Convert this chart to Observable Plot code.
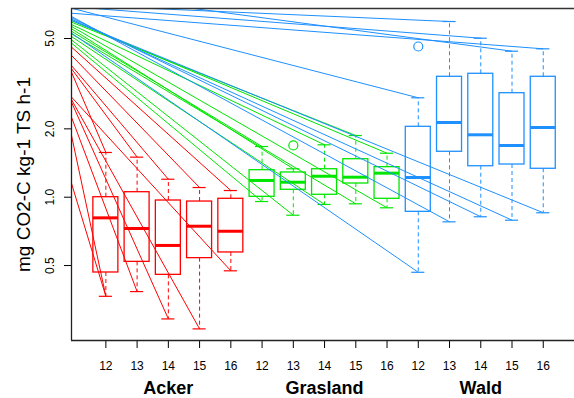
<!DOCTYPE html>
<html>
<head>
<meta charset="utf-8">
<script src="https://cdn.jsdelivr.net/npm/d3@7"></script>
<script src="https://cdn.jsdelivr.net/npm/@observablehq/plot@0.6"></script>
<style>
  html, body { margin: 0; padding: 0; background: #fff; }
  #chart { width: 574px; height: 398px; }
</style>
</head>
<body>
<div id="chart"></div>
<script>
// ---- data ----
const groups = ["Acker", "Grasland", "Wald"];
const levels = ["12", "13", "14", "15", "16"];
const groupColors = ["#ff0000", "#00e600", "#1e90ff"];

// box statistics for the 15 boxes (Acker 12..16, Grasland 12..16, Wald 12..16)
const whiskerLow  = [0.366, 0.384, 0.291, 0.263, 0.474, 0.957, 0.833, 0.929, 0.935, 0.898, 0.467, 0.779, 0.820, 0.792, 0.854];
const quart1      = [0.466, 0.519, 0.455, 0.539, 0.571, 1.004, 1.078, 1.025, 1.149, 0.984, 0.862, 1.585, 1.369, 1.393, 1.334];
const medians     = [0.811, 0.728, 0.613, 0.745, 0.708, 1.185, 1.164, 1.237, 1.225, 1.276, 1.221, 2.133, 1.883, 1.689, 2.028];
const quart3      = [1.000, 1.052, 0.967, 0.957, 0.984, 1.315, 1.285, 1.328, 1.470, 1.356, 2.042, 3.391, 3.496, 2.871, 3.391];
const whiskerHigh = [1.574, 1.501, 1.200, 1.103, 1.070, 1.672, 1.334, 1.701, 1.869, 1.562, 2.740, 5.940, 5.015, 4.396, 4.503];

// outliers: box number (1..15) and value
const outlierBox   = [7, 11];
const outlierValue = [1.69, 4.61];

// straight lines from the left edge to each whisker end: value at left edge
const upperLineStart = [3.55, 3.68, 3.80, 4.21, 4.58, 5.38, 5.52, 5.76, 5.90, 6.00, 6.80, 7.02, 6.90, 8.00, 6.46];
const lowerLineStart = [1.15, 2.25, 2.62, 2.69, 2.76, 4.77, 4.93, 5.10, 5.24, 5.65, 5.28, 6.25, 6.17, 6.08, 6.00];
const extraLineBox   = [1];
const extraLineStart = [1.87];

const yTicks = [0.5, 1, 2, 5];
const yTickLabels = ["0.5", "1.0", "2.0", "5.0"];
const yTitle = "mg CO2-C kg-1 TS h-1";

const xDomain = [-0.1, 16];
const yDomain = [0.2338, 6.778];

// ---- build ----
const boxes = whiskerLow.map((lo, i) => ({
  pos: i + 1,
  g: Math.floor(i / 5),
  level: levels[i % 5],
  lo, q1: quart1[i], med: medians[i], q3: quart3[i], hi: whiskerHigh[i]
}));
const lines = [];
boxes.forEach((b, i) => {
  lines.push({g: b.g, pos: b.pos, start: upperLineStart[i], end: b.hi});
  lines.push({g: b.g, pos: b.pos, start: lowerLineStart[i], end: b.lo});
});
extraLineBox.forEach((bx, k) => {
  const b = boxes[bx - 1];
  lines.push({g: b.g, pos: b.pos, start: extraLineStart[k], end: b.lo});
});
const outliers = outlierBox.map((bx, k) => ({pos: bx, g: Math.floor((bx - 1) / 5), v: outlierValue[k]}));

const font = "'Liberation Sans', Arial, Helvetica, sans-serif";
const marks = [];

groups.forEach((name, g) => {
  const col = groupColors[g];
  const L = lines.filter(d => d.g === g);
  const B = boxes.filter(d => d.g === g);
  const O = outliers.filter(d => d.g === g);
  marks.push(
    Plot.link(L, {x1: () => xDomain[0], y1: "start", x2: "pos", y2: "end", stroke: col, strokeWidth: 1, clip: true}),
    Plot.ruleX(B, {x: "pos", y1: "q3", y2: "hi", stroke: col, strokeWidth: 1, strokeDasharray: "4,3"}),
    Plot.ruleX(B, {x: "pos", y1: "q1", y2: "lo", stroke: col, strokeWidth: 1, strokeDasharray: "4,3"}),
    Plot.ruleY(B, {y: "hi", x1: d => d.pos - 0.21, x2: d => d.pos + 0.21, stroke: col, strokeWidth: 1.2}),
    Plot.ruleY(B, {y: "lo", x1: d => d.pos - 0.21, x2: d => d.pos + 0.21, stroke: col, strokeWidth: 1.2}),
    Plot.rect(B, {x1: d => d.pos - 0.4, x2: d => d.pos + 0.4, y1: "q1", y2: "q3", stroke: col, fill: "none", strokeWidth: 1.3}),
    Plot.ruleY(B, {y: "med", x1: d => d.pos - 0.4, x2: d => d.pos + 0.4, stroke: col, strokeWidth: 3}),
    Plot.dot(O, {x: "pos", y: "v", r: 4.5, stroke: col, fill: "none", strokeWidth: 1.2})
  );
});

// axis lines
marks.push(
  Plot.ruleX([xDomain[0]], {stroke: "#222", strokeWidth: 1.3}),
  Plot.ruleY([yDomain[0]], {stroke: "#222", strokeWidth: 1.3}),
  Plot.ruleY([yDomain[1]], {stroke: "#333", strokeWidth: 1.3})
);
// tick labels
marks.push(
  Plot.text(yTicks, {y: d => d, text: (d, i) => yTickLabels[i], frameAnchor: "left", dx: -21.5, rotate: -90, textAnchor: "middle", lineAnchor: "middle", fontSize: 12, fill: "#000"}),
  Plot.text(boxes, {x: "pos", text: "level", frameAnchor: "bottom", dy: 26, lineAnchor: "middle", fontSize: 12, fill: "#000"}),
  Plot.text(groups, {x: (d, i) => i * 5 + 3, text: d => d, frameAnchor: "bottom", dy: 47.5, lineAnchor: "middle", fontSize: 18, fontWeight: "bold", fill: "#000"}),
  Plot.text([yTitle], {text: d => d, frameAnchor: "left", dx: -47.5, dy: 0, rotate: -90, textAnchor: "middle", lineAnchor: "middle", fontSize: 19, fill: "#000"})
);

const chart = Plot.plot({
  width: 574,
  height: 398,
  marginLeft: 71,
  marginRight: 0,
  marginTop: 8,
  marginBottom: 58,
  style: {fontFamily: font, background: "#fff", overflow: "visible"},
  x: {type: "linear", domain: xDomain, ticks: boxes.map(d => d.pos), tickSize: 8, tickFormat: () => "", label: null},
  y: {type: "log", domain: yDomain, ticks: yTicks, tickSize: 7, tickFormat: () => "", label: null},
  marks
});
document.getElementById("chart").appendChild(chart);
</script>
</body>
</html>
